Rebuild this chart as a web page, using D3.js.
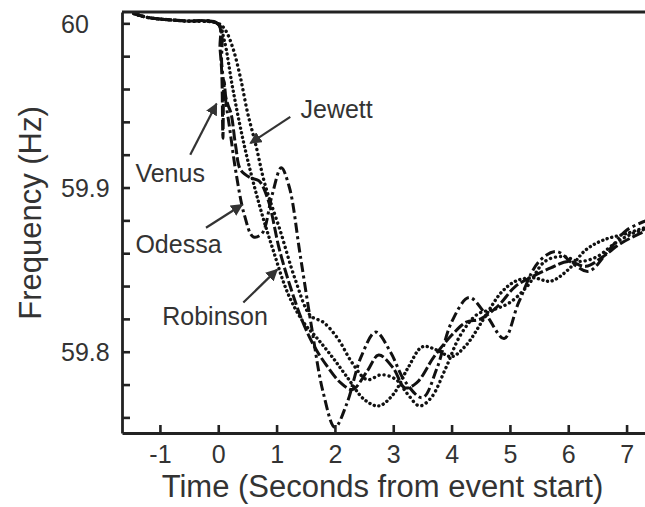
<!DOCTYPE html>
<html>
<head>
<meta charset="utf-8">
<script src="https://cdn.jsdelivr.net/npm/d3@7"></script>
<style>
  body { margin: 0; background: #fff; }
  svg { display: block; font-family: Arial, "Liberation Sans", Helvetica, sans-serif; }
</style>
</head>
<body>
<div id="chart"></div>
<script>
// frequency traces (time in s from event start, frequency in Hz)
var venusT = [-1.45, -1.2, -0.6, 0, 0.03, 0.06, 0.08, 0.1, 0.13, 0.17, 0.22, 0.3, 0.38, 0.55, 0.7, 0.85, 1.05, 1.25, 1.45, 1.65, 1.85, 2.1, 2.3, 2.55, 2.75, 3.0, 3.2, 3.4, 3.7, 4.0, 4.25, 4.5, 4.8, 5.1, 5.4, 5.7, 6.0, 6.3, 6.6, 6.9, 7.35];
var venusHz = [60.006, 60.0035, 60.0015, 59.9995, 59.985, 59.97, 59.93, 59.965, 59.955, 59.95, 59.945, 59.925, 59.911, 59.906, 59.904, 59.893, 59.862, 59.838, 59.818, 59.803, 59.792, 59.781, 59.777, 59.788, 59.798, 59.79, 59.778, 59.781, 59.797, 59.81, 59.818, 59.82, 59.828, 59.84, 59.846, 59.851, 59.855, 59.852, 59.858, 59.866, 59.874];

var odessaT = [-1.45, -1.2, -0.6, 0, 0.06, 0.12, 0.2, 0.3, 0.45, 0.6, 0.75, 0.92, 1.08, 1.22, 1.4, 1.6, 1.8, 2.0, 2.2, 2.45, 2.7, 2.95, 3.2, 3.5, 3.75, 4.0, 4.3, 4.6, 4.9, 5.15, 5.5, 5.8, 6.1, 6.35, 6.7, 7.0, 7.35];
var odessaHz = [60.006, 60.0035, 60.0015, 59.9995, 59.975, 59.955, 59.935, 59.91, 59.883, 59.87, 59.872, 59.895, 59.912, 59.9, 59.86, 59.815, 59.775, 59.754, 59.768, 59.797, 59.812, 59.8, 59.782, 59.772, 59.79, 59.818, 59.833, 59.822, 59.808, 59.83, 59.855, 59.861, 59.853, 59.849, 59.862, 59.874, 59.88];

var jewettT = [-1.45, -1.2, -0.6, 0, 0.12, 0.25, 0.38, 0.5, 0.65, 0.8, 1.06, 1.32, 1.58, 1.8, 2.05, 2.3, 2.55, 2.8, 3.05, 3.25, 3.45, 3.65, 3.9, 4.15, 4.45, 4.75, 5.0, 5.3, 5.6, 5.9, 6.2, 6.5, 6.8, 7.1, 7.35];
var jewettHz = [60.006, 60.0035, 60.0015, 60.0, 59.996, 59.985, 59.967, 59.946, 59.925, 59.902, 59.874, 59.844, 59.822, 59.818, 59.808, 59.793, 59.783, 59.786, 59.783, 59.774, 59.767, 59.772, 59.79, 59.81, 59.823, 59.826, 59.83, 59.84, 59.855, 59.858, 59.855, 59.858, 59.866, 59.872, 59.875];

var robinsonT = [-1.45, -1.2, -0.6, 0, 0.1, 0.25, 0.45, 0.7, 0.94, 1.2, 1.46, 1.7, 1.95, 2.2, 2.5, 2.75, 3.0, 3.25, 3.5, 3.75, 4.0, 4.25, 4.55, 4.85, 5.1, 5.4, 5.7, 6.0, 6.3, 6.6, 7.0, 7.35];
var robinsonHz = [60.006, 60.0035, 60.0015, 59.9995, 59.99, 59.96, 59.925, 59.89, 59.862, 59.835, 59.818, 59.808, 59.797, 59.785, 59.771, 59.767, 59.774, 59.79, 59.803, 59.801, 59.797, 59.804, 59.82, 59.836, 59.843, 59.845, 59.843, 59.85, 59.862, 59.868, 59.872, 59.876];

var xTicks = [-1, 0, 1, 2, 3, 4, 5, 6, 7];
var yTicks = [59.76, 59.78, 59.8, 59.82, 59.84, 59.86, 59.88, 59.9, 59.92, 59.94, 59.96, 59.98, 60];
var yLabels = [59.8, 59.9, 60];

// annotation: label anchor, arrow tail, arrow tip (data coords)
var labelNames = ['Venus', 'Jewett', 'Odessa', 'Robinson'];
var labelPos = [[-1.42, 59.9035], [1.41, 59.9425], [-1.42, 59.860], [-0.96, 59.816]];
var arrowFrom = [[-0.48, 59.920], [1.235, 59.943], [-0.21, 59.8755], [0.43, 59.830]];
var arrowTo = [[-0.03, 59.951], [0.55, 59.927], [0.41, 59.8895], [1.01, 59.850]];

var W = 645, H = 507;
var margin = { top: 12, left: 122, bottom: 74, right: -2 };
var width = W - margin.left - margin.right,
    height = H - margin.top - margin.bottom;

var svg = d3.select('#chart').append('svg')
    .attr('width', W)
    .attr('height', H);

var g = svg.append('g')
    .attr('transform', 'translate(' + margin.left + ',' + margin.top + ')');

var x = d3.scaleLinear().domain([-1.65, 7.35]).range([0, width]);
var y = d3.scaleLinear().domain([59.7505, 60.0069]).range([height, 0]);

svg.append('defs').append('clipPath').attr('id', 'clip')
    .append('rect').attr('width', width).attr('height', height);

svg.select('defs').append('marker')
    .attr('id', 'head')
    .attr('viewBox', '0 0 10 10')
    .attr('refX', 9).attr('refY', 5)
    .attr('markerWidth', 5.5).attr('markerHeight', 5.5)
    .attr('markerUnits', 'strokeWidth')
    .attr('orient', 'auto')
    .append('path')
    .attr('d', 'M0,0 L10,5 L0,10 Z')
    .attr('fill', '#333');

// series
var series = [
    { t: venusT, f: venusHz, dash: '11,3', cap: 'butt', w: 3 },
    { t: odessaT, f: odessaHz, dash: '10,3.5,3,3.5', cap: 'butt', w: 3 },
    { t: jewettT, f: jewettHz, dash: '0.1,5', cap: 'round', w: 3.4 },
    { t: robinsonT, f: robinsonHz, dash: '0.1,4.6', cap: 'round', w: 3.4 }
];

var line = d3.line()
    .x(d => x(d[0]))
    .y(d => y(d[1]))
    .curve(d3.curveCatmullRom.alpha(0.5));

g.append('g').attr('clip-path', 'url(#clip)')
    .selectAll('path')
    .data(series)
    .enter()
    .append('path')
    .attr('d', s => line(s.t.map((t, i) => [t, s.f[i]])))
    .attr('fill', 'none')
    .attr('stroke', '#111')
    .attr('stroke-width', s => s.w)
    .attr('stroke-dasharray', s => s.dash)
    .attr('stroke-linecap', s => s.cap)
    .attr('stroke-linejoin', 'round');

// axes
var yAxis = d3.axisLeft(y)
    .tickValues(yTicks)
    .tickSizeInner(-8)
    .tickSizeOuter(0)
    .tickFormat(d => yLabels.some(v => Math.abs(v - d) < 1e-9) ? String(+d.toFixed(1)) : '');

var yg = g.append('g').attr('class', 'axis').call(yAxis);
yg.selectAll('text')
    .attr('text-anchor', 'start')
    .attr('x', 61 - margin.left)
    .attr('dy', '0.36em')
    .style('font-size', '25px')
    .attr('fill', '#333');

var xAxis = d3.axisBottom(x)
    .tickValues(xTicks)
    .tickSizeInner(-8)
    .tickSizeOuter(0)
    .tickFormat(d => String(d));

var xg = g.append('g').attr('class', 'axis')
    .attr('transform', 'translate(0,' + height + ')')
    .call(xAxis);
xg.selectAll('text')
    .attr('y', 12)
    .attr('dy', '0.71em')
    .style('font-size', '25px')
    .attr('fill', '#333');

g.selectAll('.axis .domain').attr('stroke', '#222').attr('stroke-width', 2.8);
g.selectAll('.axis .tick line').attr('stroke', '#222').attr('stroke-width', 2.6);

// top frame line
g.append('line')
    .attr('x1', 0).attr('x2', width + 5)
    .attr('y1', 0).attr('y2', 0)
    .attr('stroke', '#222')
    .attr('stroke-width', 2.8);

// titles
svg.append('text')
    .attr('x', margin.left + width / 2 - 2)
    .attr('y', 497)
    .attr('text-anchor', 'middle')
    .style('font-size', '31px')
    .attr('fill', '#333')
    .text('Time (Seconds from event start)');

svg.append('text')
    .attr('transform', 'translate(41,' + 213 + ') rotate(-90)')
    .attr('text-anchor', 'middle')
    .style('font-size', '31px')
    .attr('fill', '#333')
    .text('Frequency (Hz)');

// station labels and arrows
g.selectAll('.arrow')
    .data(labelNames)
    .enter()
    .append('line')
    .attr('class', 'arrow')
    .attr('x1', (d, i) => x(arrowFrom[i][0]))
    .attr('y1', (d, i) => y(arrowFrom[i][1]))
    .attr('x2', (d, i) => x(arrowTo[i][0]))
    .attr('y2', (d, i) => y(arrowTo[i][1]))
    .attr('stroke', '#333')
    .attr('stroke-width', 2.2)
    .attr('marker-end', 'url(#head)');

g.selectAll('.name')
    .data(labelNames)
    .enter()
    .append('text')
    .attr('class', 'name')
    .attr('x', (d, i) => x(labelPos[i][0]))
    .attr('y', (d, i) => y(labelPos[i][1]))
    .style('font-size', '25px')
    .attr('fill', '#333')
    .text(d => d);
</script>
</body>
</html>
